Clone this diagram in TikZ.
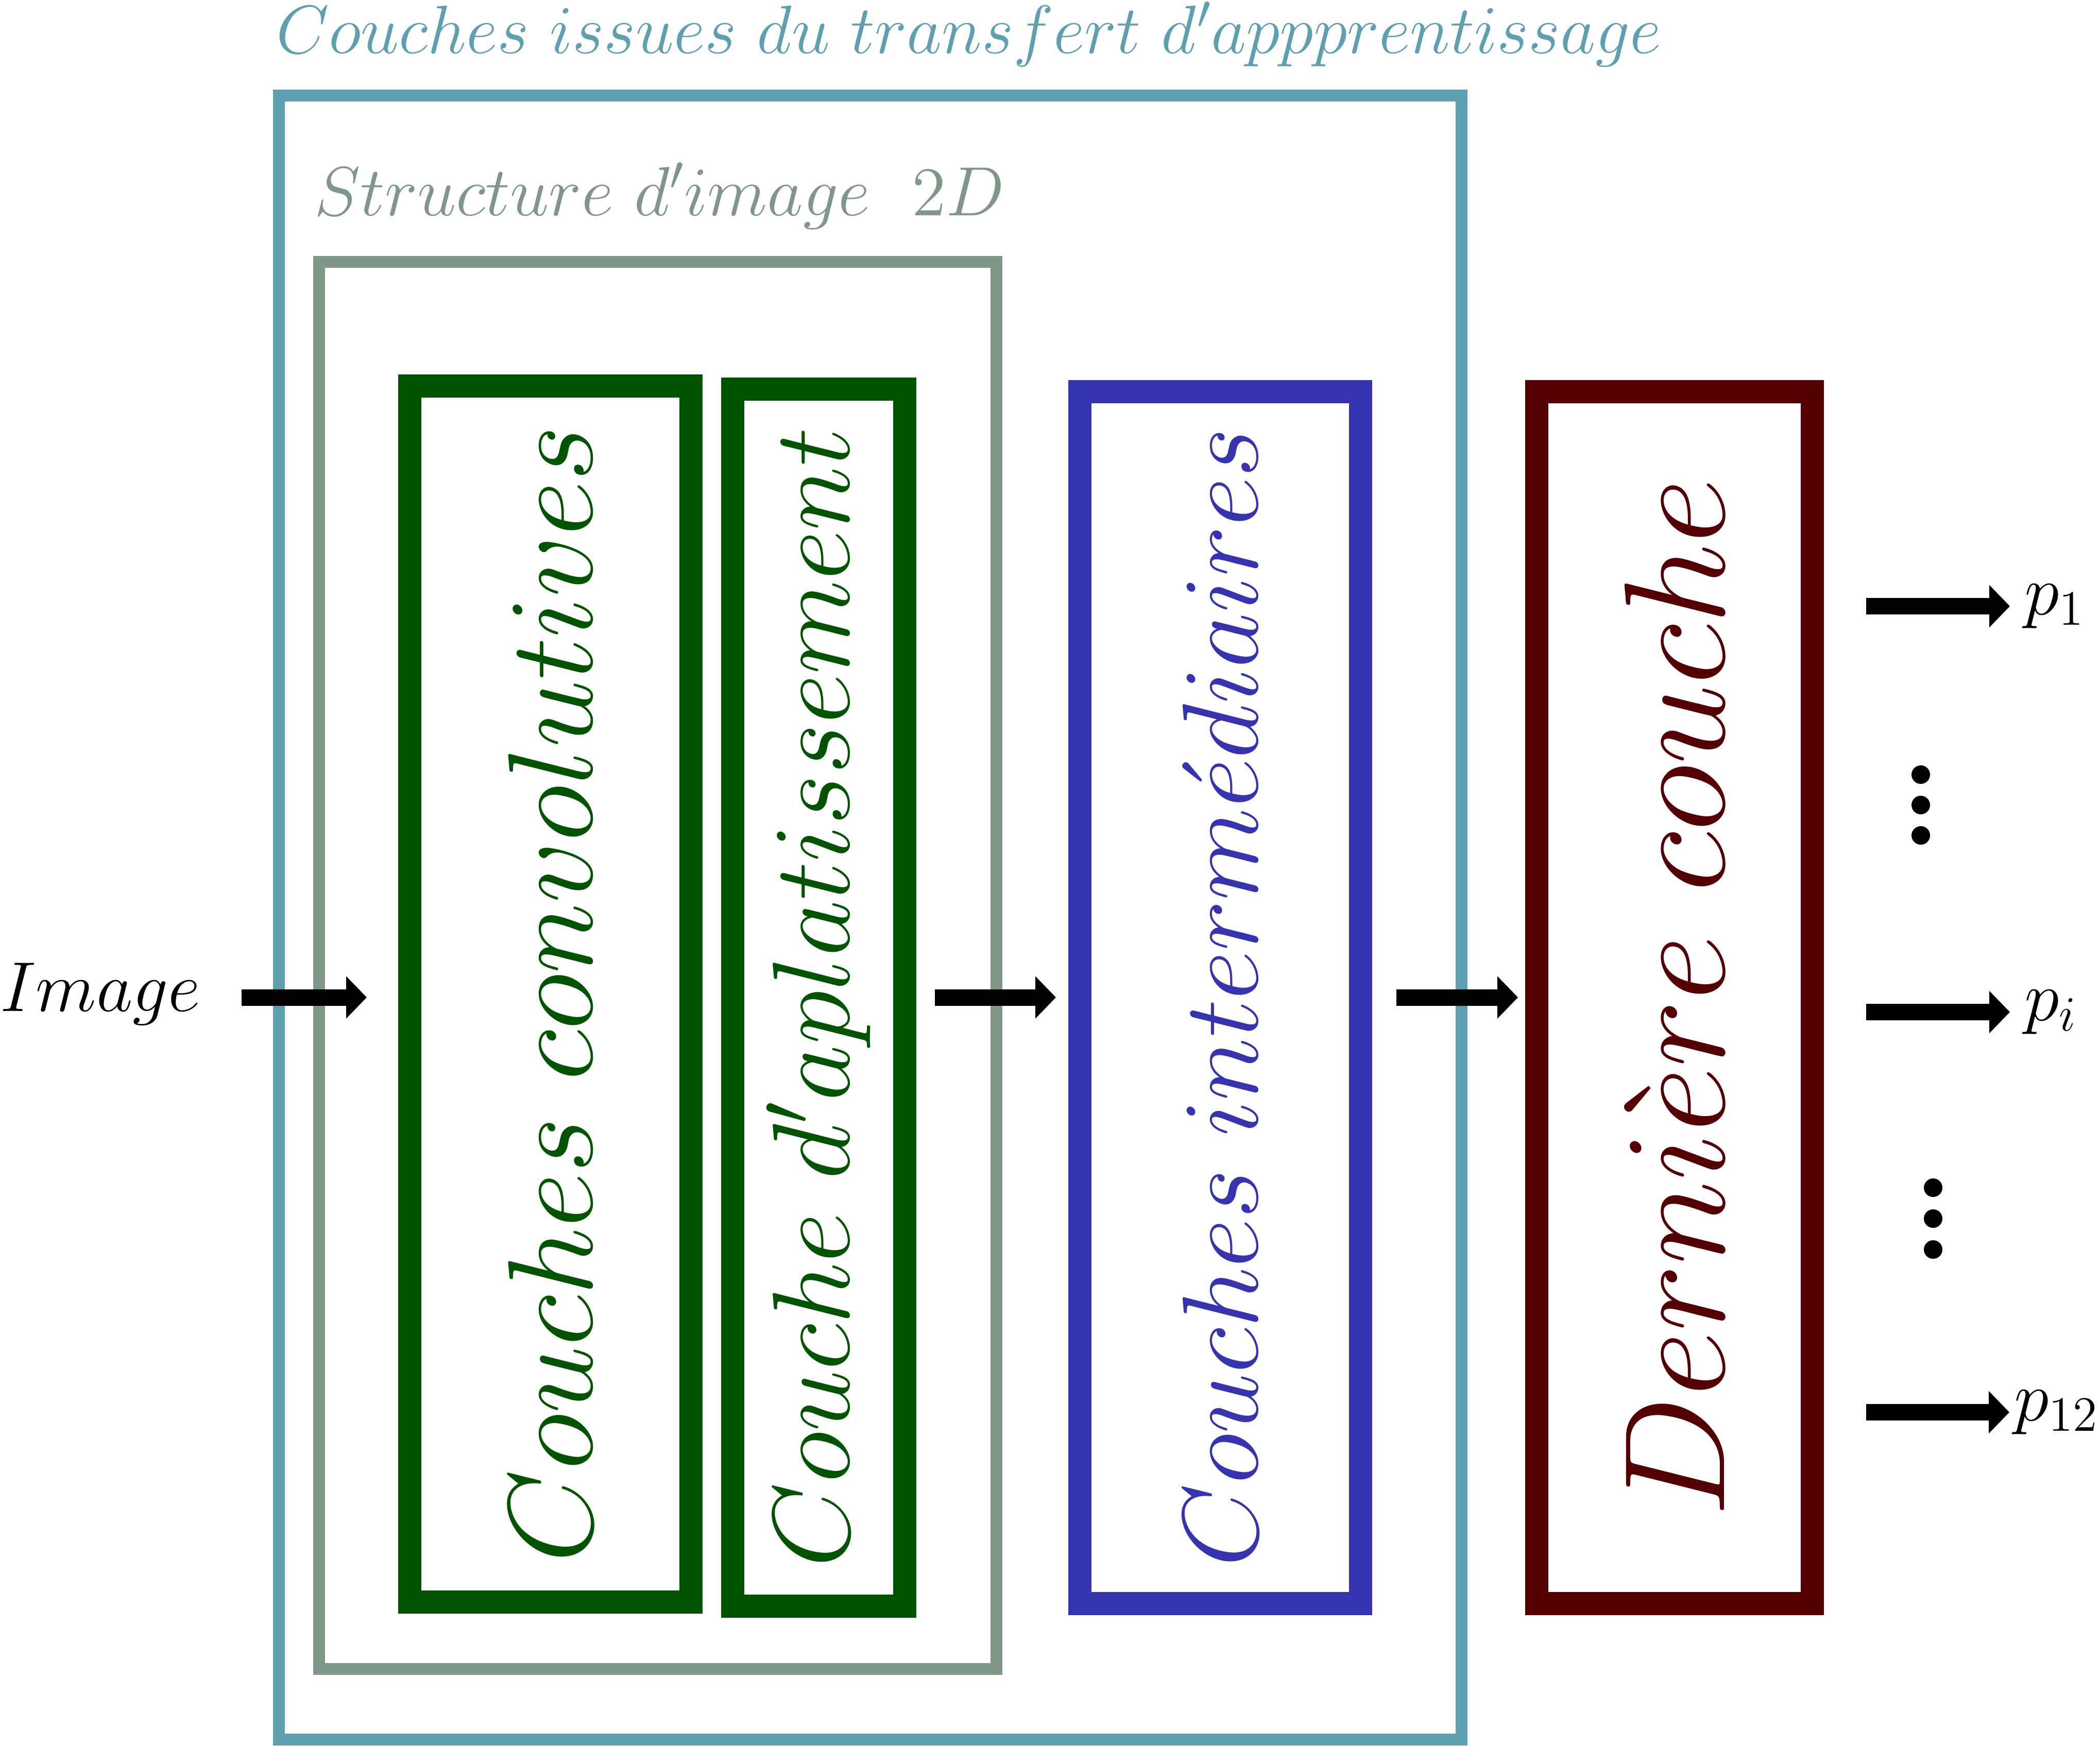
\documentclass[tikz,border=0pt]{standalone}
\usepackage{amsmath,amssymb}
\usepackage{xcolor}
\usepackage{graphicx}
\usepackage{tikz}
\usetikzlibrary{
  arrows.meta,
  positioning,
  calc
}
\DeclareFontShape{OML}{cmm}{m}{it}{<->cmmi12}{\skewchar\font=127 }
\DeclareFontShape{OT1}{cmr}{m}{n}{<->cmr12}{}
\DeclareFontShape{OMS}{cmsy}{m}{n}{<->cmsy10}{\skewchar\font=48 }
\definecolor{transblue}{RGB}{94,159,176}
\definecolor{structgray}{RGB}{126,151,134}
\definecolor{convgreen}{RGB}{2,84,2}
\definecolor{interblue}{RGB}{53,51,176}
\definecolor{lastred}{RGB}{84,0,2}

\begin{document}
\begin{tikzpicture}[
  every node/.style={inner sep=0pt, outer sep=0pt},
  frame/.style={rectangle, draw, line width=0.23cm},
  layer/.style={rectangle, draw, line width=0.45cm, text centered},
  flow/.style={-{Triangle[length=0.4cm, width=0.8cm]}, line width=0.32cm},
  lbl/.style={font=\fontsize{39}{47}\selectfont}
]
  \useasboundingbox (0,0) rectangle (40.77,-33.89);

  \node[frame, draw=transblue, minimum width=22.96cm, minimum height=31.91cm] (transfert) at (16.89,-17.815) {};
  \node[text=transblue, anchor=base west, font=\fontsize{37.8}{45}\selectfont] (ttransfert) at (5.36,-1.04)
      {$Couches\ issues\ du\ transfert\ d'appprentissage$};

  \node[frame, draw=structgray, minimum width=13.15cm, minimum height=27.32cm] (struct) at (12.765,-18.74) {};
  \node[text=structgray, anchor=base west, font=\fontsize{38.5}{46}\selectfont] (tstruct) at (6.10,-4.18)
      {$Structure\ d'image\ \ 2D$};

  \node[layer, draw=convgreen, text=convgreen, minimum width=5.46cm, minimum height=23.61cm,
      font=\fontsize{66.6}{80}\selectfont] (conv) at (10.68,-19.295)
      {\rotatebox{90}{$Couches\ convolutives$}};

  \node[layer, draw=convgreen, text=convgreen, minimum width=3.34cm, minimum height=23.63cm,
      font=\fontsize{60.6}{73}\selectfont] (flat) at (15.89,-19.365)
      {\rotatebox{90}{$Couche\ d'aplatissement$}};

  \node[layer, draw=interblue, text=interblue, minimum width=5.45cm, minimum height=23.53cm,
      font=\fontsize{59.5}{71}\selectfont] (inter) at (23.685,-19.365)
      {\rotatebox{90}{$Couches\ interm\acute{e}diaires$}};

  \node[layer, draw=lastred, text=lastred, minimum width=5.35cm, minimum height=23.53cm,
      font=\fontsize{79.2}{95}\selectfont] (last) at (32.505,-19.365)
      {\rotatebox{90}{$Derni\grave{e}re\ couche$}};

  \node[lbl, anchor=base west] (img) at (0,-19.63) {$Image$};

  \node[lbl, anchor=west, inner xsep=0.28cm] (p1) at (39.02,-11.77) {$p_1$};
  \node[lbl, anchor=west, inner xsep=0.28cm] (pi) at (39.02,-19.65) {$p_i$};
  \node[lbl, anchor=west, inner xsep=0.09cm] (p12) at (39.01,-27.42) {$p_{12}$};

  \draw[flow, shorten <=0.8cm, shorten >=0.83cm] (img.east |- flat) -- (conv.west |- flat);
  \draw[flow, shorten <=0.59cm, shorten >=0.46cm] (flat.east) -- (inter.west);
  \draw[flow, shorten <=0.70cm, shorten >=0.36cm] (inter.east) -- (last.west);

  \draw[flow, shorten <=1.05cm] (last.east |- p1) -- (p1);
  \draw[flow, shorten <=1.05cm] (last.east |- pi) -- (pi);
  \draw[flow, shorten <=1.05cm] (last.east |- p12) -- (p12);

  \foreach \y in {15.04,15.63,16.22}
    \fill (37.29,-\y) circle (0.18);
  \foreach \y in {23.06,23.66,24.26}
    \fill (37.53,-\y) circle (0.18);
\end{tikzpicture}
\end{document}
